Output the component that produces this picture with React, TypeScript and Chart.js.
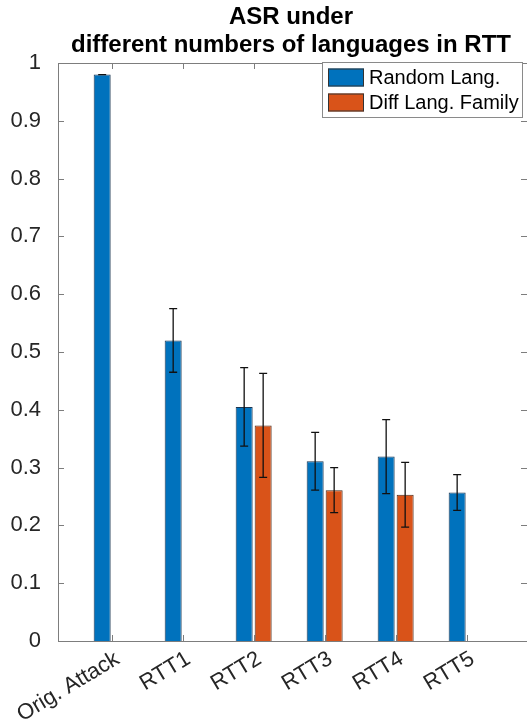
import { useEffect, useRef } from "react";
import { Chart, registerables } from "chart.js";

Chart.register(...registerables);

const categories = ["Orig. Attack", "RTT1", "RTT2", "RTT3", "RTT4", "RTT5"];
const seriesLabels = ["Random Lang.", "Diff Lang. Family"];
const randomLang = [0.98, 0.52, 0.405, 0.311, 0.319, 0.257];
const randomLangErr = [0.0, 0.055, 0.068, 0.05, 0.064, 0.031];
const diffFamily: (number | null)[] = [null, null, 0.373, 0.261, 0.253, null];
const diffFamilyErr: (number | null)[] = [null, null, 0.09, 0.039, 0.056, null];
const yTicks = [0, 0.1, 0.2, 0.3, 0.4, 0.5, 0.6, 0.7, 0.8, 0.9, 1];
const titleLines = ["ASR under", "different numbers of languages in RTT"];
const seriesColors = ["#0072BD", "#D95319"];
const errors = [randomLangErr, diffFamilyErr];

const FONT = "'Liberation Sans', Helvetica, Arial, sans-serif";
const AXIS = "#262626";
const FRAME = "#7d7d7d";

export default function App() {
  const ref = useRef<HTMLCanvasElement | null>(null);

  useEffect(() => {
    const canvas = ref.current;
    if (!canvas) return;

    const frame = {
      id: "frame",
      afterDatasetsDraw(chart: any) {
        const { ctx, chartArea, scales } = chart;
        const { left, right, top, bottom } = chartArea;
        ctx.save();
        // error bars
        chart.data.datasets.forEach((ds: any, di: number) => {
          const meta = chart.getDatasetMeta(di);
          meta.data.forEach((bar: any, j: number) => {
            const v = ds.data[j].y;
            const e = errors[di][j];
            if (v == null || e == null) return;
            const yT = scales.y.getPixelForValue(v + e);
            const yB = scales.y.getPixelForValue(v - e);
            const x = bar.x;
            ctx.strokeStyle = "#111";
            ctx.lineWidth = 1.3;
            ctx.beginPath();
            ctx.moveTo(x, yT);
            ctx.lineTo(x, yB);
            ctx.moveTo(x - 4, yT);
            ctx.lineTo(x + 4, yT);
            ctx.moveTo(x - 4, yB);
            ctx.lineTo(x + 4, yB);
            ctx.stroke();
          });
        });
        // box
        ctx.strokeStyle = FRAME;
        ctx.lineWidth = 1;
        ctx.beginPath();
        ctx.moveTo(left + 0.5, top + 0.5);
        ctx.lineTo(left + 0.5, bottom + 0.5);
        ctx.lineTo(right, bottom + 0.5);
        ctx.moveTo(left + 0.5, top + 0.5);
        ctx.lineTo(right, top + 0.5);
        // y ticks
        yTicks.forEach((t) => {
          const y = Math.round(scales.y.getPixelForValue(t)) + 0.5;
          ctx.moveTo(left, y);
          ctx.lineTo(left + 6, y);
          ctx.moveTo(right - 6, y);
          ctx.lineTo(right, y);
        });
        // x ticks
        categories.forEach((_, i) => {
          const x = Math.round(scales.x.getPixelForValue(i + 1)) + 0.5;
          ctx.moveTo(x, bottom);
          ctx.lineTo(x, bottom - 6);
          ctx.moveTo(x, top);
          ctx.lineTo(x, top + 6);
        });
        ctx.stroke();
        ctx.restore();
      },
      afterDraw(chart: any) {
        const { ctx } = chart;
        ctx.save();
        // title
        ctx.fillStyle = "#000";
        ctx.font = `bold 24px ${FONT}`;
        ctx.textAlign = "center";
        ctx.textBaseline = "middle";
        ctx.fillText(titleLines[0], 291, 17);
        ctx.fillText(titleLines[1], 291, 45);
        // legend
        const lx = 322, ly = 62, lw = 200, lh = 55;
        ctx.fillStyle = "#fff";
        ctx.fillRect(lx, ly, lw, lh);
        ctx.strokeStyle = "#8a8a8a";
        ctx.lineWidth = 1;
        ctx.strokeRect(lx + 0.5, ly + 0.5, lw, lh);
        ctx.font = `20px ${FONT}`;
        ctx.textAlign = "left";
        seriesLabels.forEach((lab, i) => {
          const cy = ly + 15.5 + i * 25;
          ctx.fillStyle = seriesColors[i];
          ctx.fillRect(328, cy - 9, 36, 18);
          ctx.strokeStyle = "#333";
          ctx.strokeRect(328.5, cy - 8.5, 35, 17);
          ctx.fillStyle = "#000";
          ctx.fillText(lab, 369, cy + 1);
        });
        ctx.restore();
      },
    };

    const chart = new Chart(canvas, {
      type: "bar",
      data: {
        datasets: [
          {
            label: seriesLabels[0],
            data: randomLang.map((v, i) => ({ x: i + 1, y: v })),
            backgroundColor: seriesColors[0],
            borderColor: "#1c3550",
            borderWidth: 1,
          },
          {
            label: seriesLabels[1],
            data: diffFamily.map((v, i) => ({ x: i + 1, y: v })),
            backgroundColor: seriesColors[1],
            borderColor: "#4a2a1a",
            borderWidth: 1,
          },
        ] as any,
      },
      options: {
        responsive: false,
        animation: false,
        devicePixelRatio: window.devicePixelRatio || 1,
        layout: { padding: { top: 63, left: 0, right: 0, bottom: 0 } },
        datasets: { bar: { categoryPercentage: 0.535, barPercentage: 0.895 } } as any,
        plugins: {
          legend: { display: false },
          tooltip: { enabled: false },
          title: { display: false },
        },
        scales: {
          x: {
            type: "linear",
            offset: false,
            min: 0.244,
            max: 6.85,
            grid: { display: false },
            border: { display: false },
            afterBuildTicks: (scale: any) => {
              scale.ticks = categories.map((_, i) => ({ value: i + 1 }));
            },
            afterFit: (scale: any) => {
              scale.height = 83;
              scale.paddingLeft = 0;
              scale.paddingRight = 0;
            },
            ticks: {
              autoSkip: false,
              minRotation: 31,
              maxRotation: 31,
              padding: -3,
              labelOffset: 6,
              color: AXIS,
              font: { family: FONT, size: 22 },
              callback: (v: any) => categories[Math.round(Number(v)) - 1] ?? "",
            },
          },
          y: {
            min: 0,
            max: 1,
            grid: { display: false },
            border: { display: false },
            afterBuildTicks: (scale: any) => {
              scale.ticks = yTicks.map((v) => ({ value: v }));
            },
            afterFit: (scale: any) => {
              scale.width = 58;
              scale.paddingTop = 0;
              scale.paddingBottom = 0;
            },
            ticks: {
              padding: 9,
              color: AXIS,
              font: { family: FONT, size: 22 },
              callback: (v: any) => String(Number(Number(v).toFixed(1))),
            },
          },
        },
      },
      plugins: [frame],
    });

    return () => chart.destroy();
  }, []);

  return (
    <div style={{ position: "absolute", left: 0, top: 0, width: 527, height: 724, background: "#fff" }}>
      <canvas ref={ref} width={527} height={724} style={{ width: 527, height: 724 }} />
    </div>
  );
}
